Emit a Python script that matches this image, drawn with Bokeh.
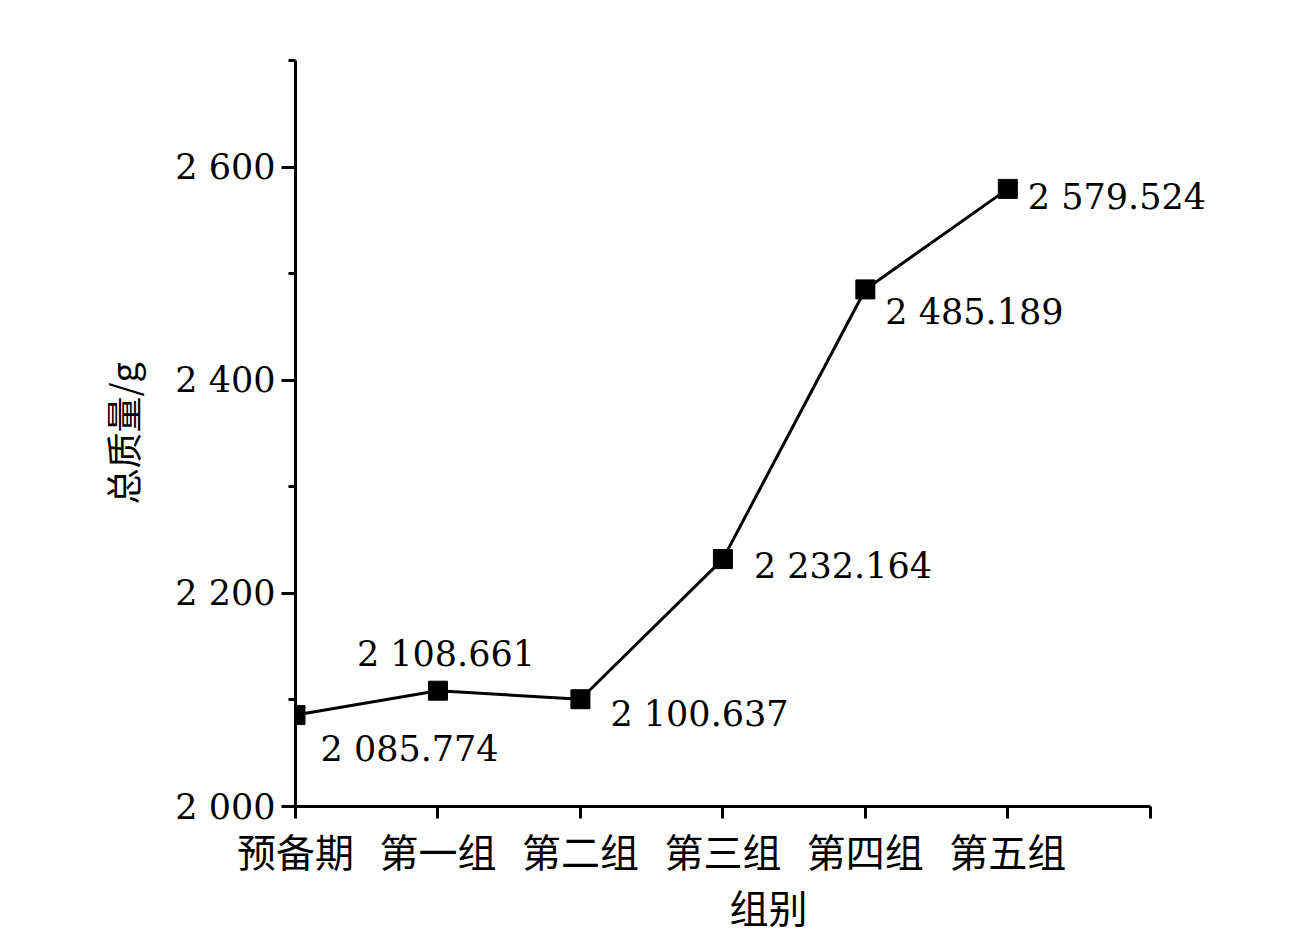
from bokeh.plotting import figure
from bokeh.embed import file_html
from bokeh.resources import INLINE
from bokeh.models import FixedTicker, ColumnDataSource, Range1d, Title
from bokeh.core.properties import value

categories = ["预备期", "第一组", "第二组", "第三组", "第四组", "第五组"]
masses = [2085.774, 2108.661, 2100.637, 2232.164, 2485.189, 2579.524]
y_ticks = [2000, 2200, 2400, 2600]
y_minor = [2100, 2300, 2500, 2700]
y_tick_labels = ["2 000", "2 200", "2 400", "2 600"]

xs = list(range(len(categories)))
labels = [f"{v:,.3f}".replace(",", " ") for v in masses]
x_offs = [25, 8, 30, 31, 20, 20]
y_offs = [34, -37, 15, 7, 23, 8]
aligns = ["left", "center", "left", "left", "left", "left"]

src = ColumnDataSource(dict(x=xs, y=masses, label=labels, xo=x_offs, yo=y_offs, al=aligns))

p = figure(width=1290, height=934, output_backend="svg", toolbar_location=None,
           x_range=Range1d(0, 6.9), y_range=Range1d(2000, 2700),
           min_border_left=295, min_border_top=60, min_border_right=12, min_border_bottom=128)
p.outline_line_color = None
p.grid.grid_line_color = None
p.background_fill_color = "white"

p.line("x", "y", source=src, line_color="black", line_width=3)
p.scatter("x", "y", source=src, marker="square", size=19, fill_color="black", line_color="black")
p.text("x", "y", text="label", source=src, x_offset="xo", y_offset="yo", text_align="al",
       text_baseline="middle", text_font=value("DejaVu Serif"), text_font_size="35px",
       text_color="black")

# y axis
ya = p.yaxis[0]
ya.ticker = FixedTicker(ticks=y_ticks, minor_ticks=y_minor)
ya.major_label_overrides = {t: l for t, l in zip(y_ticks, y_tick_labels)}
ya.axis_line_width = 3
ya.major_tick_line_width = 3
ya.minor_tick_line_width = 3
ya.major_tick_out = 14
ya.major_tick_in = 0
ya.minor_tick_out = 7
ya.minor_tick_in = 0
ya.major_label_text_font = "DejaVu Serif"
ya.major_label_text_font_size = "35px"
ya.major_label_text_color = "black"
ya.major_label_standoff = 6
ya.axis_label = "总质量/g"
ya.axis_label_text_font = "Noto Sans CJK SC"
ya.axis_label_text_font_size = "36px"
ya.axis_label_text_font_style = "normal"
ya.axis_label_standoff = 24
ya.axis_label_text_color = "black"

# x axis
xa = p.xaxis[0]
xa.bounds = (0, 6)
xa.ticker = FixedTicker(ticks=xs + [6], minor_ticks=[])
xa.major_label_overrides = {i: c for i, c in enumerate(categories)} | {6: ""}
xa.axis_line_width = 3
xa.major_tick_line_width = 3
xa.major_tick_out = 12
xa.major_tick_in = 0
xa.minor_tick_line_color = None
xa.major_label_text_font = "Noto Sans CJK SC"
xa.major_label_text_font_size = "39px"
xa.major_label_text_color = "black"
xa.major_label_standoff = 3

xtitle = Title(text="组别", align="left", offset=434, standoff=-9,
               text_font="Noto Sans CJK SC", text_font_size="39px",
               text_font_style="normal", text_color="black")
p.add_layout(xtitle, "below")

open("out.html", "w").write(file_html(p, INLINE))
